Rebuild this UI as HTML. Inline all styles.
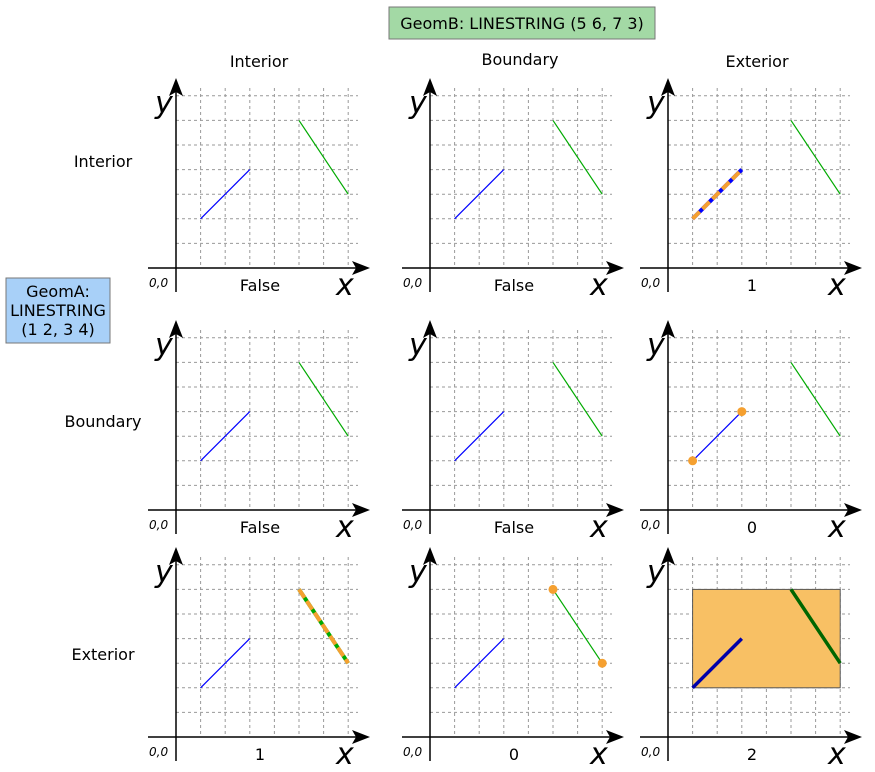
<!DOCTYPE html>
<html><head><meta charset="utf-8"><style>
body{margin:0;background:#fff;width:875px;height:772px;overflow:hidden}
svg{display:block}
text{font-family:"DejaVu Sans","Liberation Sans",sans-serif}
</style></head><body>
<svg id="c" width="875" height="772" viewBox="0 0 875 772">
<rect x="389" y="7" width="266" height="32" fill="#a3d9a5" stroke="#777"/>
<text x="522" y="29" font-size="16" text-anchor="middle">GeomB: LINESTRING (5 6, 7 3)</text>
<rect x="6" y="278" width="104" height="65" fill="#a8d0f8" stroke="#777"/>
<text x="58" y="297" font-size="16" text-anchor="middle">GeomA:</text>
<text x="58" y="316" font-size="16" text-anchor="middle">LINESTRING</text>
<text x="58" y="335" font-size="16" text-anchor="middle">(1 2, 3 4)</text>
</svg>
<script>
const colLabels=["Interior","Boundary","Exterior"];
const rowLabels=["Interior","Boundary","Exterior"];
const results=[["False","False","1"],["False","False","0"],["1","0","2"]];
const geomA=[[1,2],[3,4]];
const geomB=[[5,6],[7,3]];
const colX=[176,430,668];
const rowY=[268,510,737];
const colHeadX=[259,520,757], colHeadY=[67,65,67];
const rowHeadY=[167,427,660];
const U=24.6;
const NS="http://www.w3.org/2000/svg";
const svg=document.getElementById('c');
function el(t,a,p){const e=document.createElementNS(NS,t);for(const k in a)e.setAttribute(k,a[k]);(p||svg).appendChild(e);return e;}
colLabels.forEach((l,i)=>{const t=el('text',{x:colHeadX[i],y:colHeadY[i],'font-size':16,'text-anchor':'middle'});t.textContent=l;

});
rowLabels.forEach((l,i)=>{const t=el('text',{x:103,y:rowHeadY[i],'font-size':16,'text-anchor':'middle'});t.textContent=l;

});
for(let r=0;r<3;r++)for(let c=0;c<3;c++){
 const ox=colX[c],oy=rowY[r];
 const g=el('g',{});
 
 
 const X=v=>ox+v*U, Y=v=>oy-v*U;
 for(let i=1;i<=7;i++){
  el('line',{x1:X(i),y1:oy-180,x2:X(i),y2:oy,stroke:'#999','stroke-dasharray':'3,3','stroke-width':1},g);
  el('line',{x1:ox,y1:Y(i),x2:ox+182,y2:Y(i),stroke:'#999','stroke-dasharray':'3,3','stroke-width':1},g);
 }
 if(r==2&&c==2){
  el('rect',{x:X(1),y:Y(6),width:6*U,height:4*U,fill:'#f8c064',stroke:'#555','stroke-width':1},g);
 }
 el('line',{x1:ox-28,y1:oy,x2:ox+182,y2:oy,stroke:'#000','stroke-width':1.5},g);
 el('polygon',{points:`${ox+194},${oy} ${ox+176},${oy-7} ${ox+180},${oy} ${ox+176},${oy+7}`,fill:'#000'},g);
 el('line',{x1:ox,y1:oy+24,x2:ox,y2:oy-176,stroke:'#000','stroke-width':1.5},g);
 el('polygon',{points:`${ox},${oy-190} ${ox-7},${oy-172} ${ox},${oy-176} ${ox+7},${oy-172}`,fill:'#000'},g);
 let t=el('text',{x:ox-21,y:oy-155,'font-size':30,'font-style':'italic'},g);t.textContent='y';
 t=el('text',{x:ox+160,y:oy+27,'font-size':30,'font-style':'italic'},g);t.textContent='x';
 t=el('text',{x:ox-27,y:oy+19,'font-size':12,'font-style':'italic'},g);t.textContent='0,0';
 t=el('text',{x:ox+84,y:oy+23,'font-size':16,'text-anchor':'middle'},g);t.textContent=results[r][c];
 
 
 const thick=(r==2&&c==2)?3.5:1.2;
 const a=el('line',{x1:X(geomA[0][0]),y1:Y(geomA[0][1]),x2:X(geomA[1][0]),y2:Y(geomA[1][1]),stroke:r==2&&c==2?'#0000aa':'#0000ff','stroke-width':thick},g);
 
 
 const b=el('line',{x1:X(geomB[0][0]),y1:Y(geomB[0][1]),x2:X(geomB[1][0]),y2:Y(geomB[1][1]),stroke:r==2&&c==2?'#006600':'#00aa00','stroke-width':thick},g);
 
 
 if(r==0&&c==2){el('line',{x1:X(geomA[0][0]),y1:Y(geomA[0][1]),x2:X(geomA[1][0]),y2:Y(geomA[1][1]),stroke:'#0000ff','stroke-width':4},g);
  el('line',{x1:X(geomA[0][0]),y1:Y(geomA[0][1]),x2:X(geomA[1][0]),y2:Y(geomA[1][1]),stroke:'#f5a030','stroke-width':4,'stroke-dasharray':'10,4'},g);}
 if(r==2&&c==0){el('line',{x1:X(geomB[0][0]),y1:Y(geomB[0][1]),x2:X(geomB[1][0]),y2:Y(geomB[1][1]),stroke:'#00aa00','stroke-width':4},g);
  el('line',{x1:X(geomB[0][0]),y1:Y(geomB[0][1]),x2:X(geomB[1][0]),y2:Y(geomB[1][1]),stroke:'#f5a030','stroke-width':4,'stroke-dasharray':'10,4'},g);}
 if(r==1&&c==2)geomA.forEach(p=>el('circle',{cx:X(p[0]),cy:Y(p[1]),r:4.5,fill:'#f5a030'},g));
 if(r==2&&c==1)geomB.forEach(p=>el('circle',{cx:X(p[0]),cy:Y(p[1]),r:4.5,fill:'#f5a030'},g));
}
</script>
</body></html>
